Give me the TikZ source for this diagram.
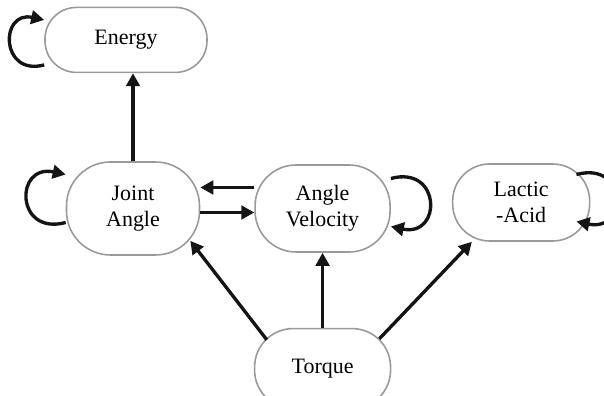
\documentclass[tikz,border=0pt]{standalone}
\usepackage{fontspec}
\setmainfont{Liberation Serif}
\usetikzlibrary{arrows.meta,positioning}

\begin{document}
\begin{tikzpicture}[
  font=\fontsize{12.5}{14.8}\selectfont,
  st/.style={draw=black!40, line width=0.9pt, rounded corners=0.75cm,
    align=center, inner sep=0pt, fill=white},
  arr/.style={-{Triangle[length=2.6mm, width=2.7mm]}, line width=1.9pt,
    black!92}
]
  \useasboundingbox (0,0) rectangle (12.08,-7.92);

  % state nodes
  \node[st, minimum width=2.66cm, minimum height=1.86cm,
    rounded corners=0.88cm] (joint) at (2.66,-4.17) {Joint\\Angle};
  \node[st, minimum width=2.70cm, minimum height=1.74cm,
    rounded corners=0.82cm, right=1.08cm of joint] (angvel) {Angle\\Velocity};
  \node[st, minimum width=2.74cm, minimum height=1.54cm,
    rounded corners=0.74cm, right=1.22cm of angvel, yshift=0.12cm] (lactic) {Lactic\\-Acid};
  \node[st, minimum width=3.24cm, minimum height=1.30cm,
    rounded corners=0.63cm, above=1.76cm of joint, xshift=-0.14cm] (energy) {Energy};
  \node[st, minimum width=2.72cm, minimum height=1.6cm,
    rounded corners=0.77cm, below=1.5cm of angvel] (torque) {Torque};

  % links
  \draw[arr] (joint.north) -- (joint.north |- energy.south);
  \draw[arr] ([yshift=0.42cm]angvel.west) -- ([yshift=0.42cm]joint.east);
  \draw[arr] ([yshift=-0.08cm]joint.east) -- ([yshift=-0.08cm]angvel.west);
  \draw[arr] ([shift={(0.26,-0.24)}]torque.north west) -- ([shift={(-0.2,0.3)}]joint.south east);
  \draw[arr] (torque.north) -- (angvel.south);
  \draw[arr] ([shift={(-0.24,-0.22)}]torque.north east) -- ([xshift=0.4cm]lactic.south west);

  % self loops
  \draw[arr] ([yshift=-0.5cm]energy.west) to[out=195, in=168, looseness=2.6] ([yshift=0.4cm]energy.west);
  \draw[arr] ([yshift=-0.28cm]joint.west) to[out=195, in=168, looseness=2.8] ([yshift=0.68cm]joint.west);
  \draw[arr] ([yshift=0.6cm]angvel.east) to[out=15, in=-12, looseness=2.8] ([yshift=-0.36cm]angvel.east);
  \draw[arr] ([shift={(-0.28,0.56)}]lactic.east) to[out=15, in=-12, looseness=2.9] ([shift={(-0.28,-0.38)}]lactic.east);
\end{tikzpicture}
\end{document}
